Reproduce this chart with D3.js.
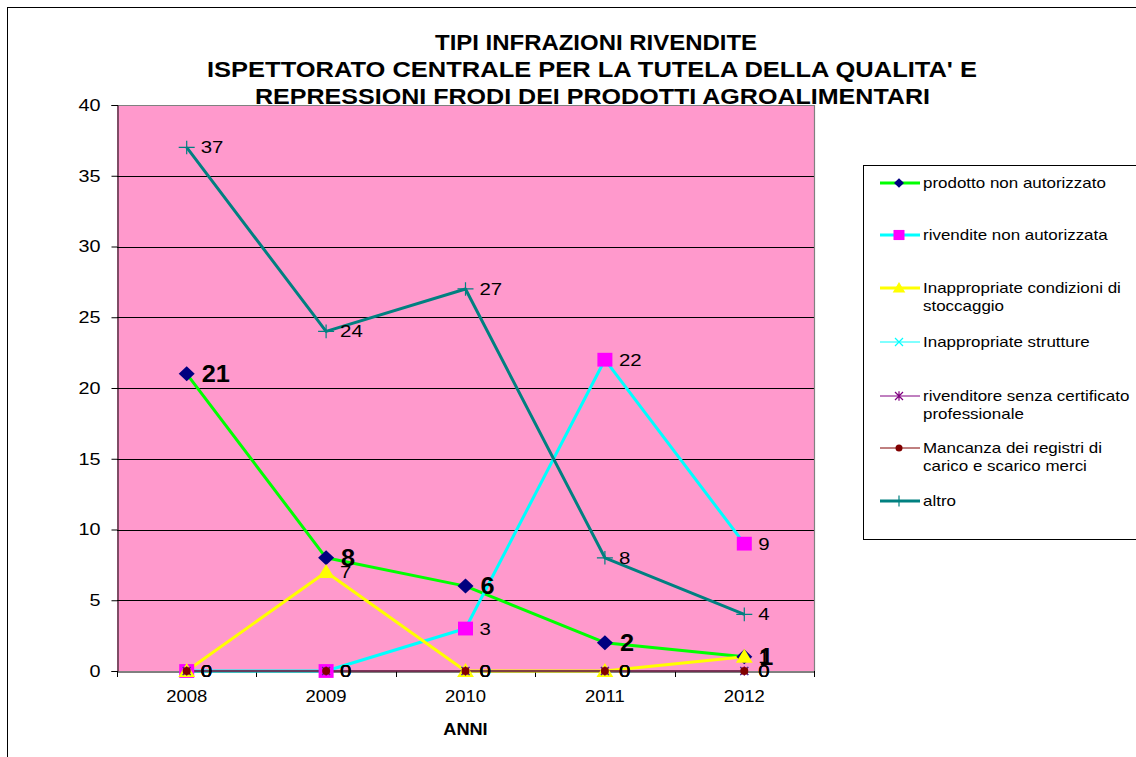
<!DOCTYPE html>
<html><head><meta charset="utf-8">
<script src="https://cdn.jsdelivr.net/npm/d3@7"></script>
<style>
html,body{margin:0;padding:0;background:#fff;}
svg{display:block;font-family:"Liberation Sans",Arial,sans-serif;}
</style></head>
<body>
<svg id="c" width="1136" height="757"></svg>
<script>
// ---- data ----
const years = ["2008", "2009", "2010", "2011", "2012"];
const prodotto = [21, 8, 6, 2, 1];
const rivendite = [0, 0, 3, 22, 9];
const stoccaggio = [0, 7, 0, 0, 1];
const strutture = [0, 0, 0, 0, 0];
const certificato = [0, 0, 0, 0, 0];
const registri = [0, 0, 0, 0, 0];
const altro = [37, 24, 27, 8, 4];
const seriesNames = [
  ["prodotto non autorizzato"],
  ["rivendite non autorizzata"],
  ["Inappropriate condizioni di", "stoccaggio"],
  ["Inappropriate strutture"],
  ["rivenditore senza certificato", "professionale"],
  ["Mancanza dei registri di", "carico e scarico merci"],
  ["altro"]
];
const yTicks = [0, 5, 10, 15, 20, 25, 30, 35, 40];
const titleLines = ["TIPI INFRAZIONI RIVENDITE", "ISPETTORATO CENTRALE PER LA TUTELA DELLA QUALITA' E", "REPRESSIONI FRODI DEI PRODOTTI AGROALIMENTARI"];
const xTitle = "ANNI";

// ---- styles ----
const styles = [
  {line:"#00FF00", w:3, marker:"diamond", fill:"#000080", stroke:"none", bold:true},
  {line:"#00FFFF", w:3, marker:"square", fill:"#FF00FF", stroke:"none", bold:false},
  {line:"#FFFF00", w:3, marker:"triangle", fill:"#FFFF00", stroke:"none", bold:false},
  {line:"#00FFFF", w:1, marker:"x", fill:"none", stroke:"#00FFFF", bold:false},
  {line:"#800080", w:1, marker:"asterisk", fill:"none", stroke:"#800080", bold:false},
  {line:"#800000", w:1, marker:"circle", fill:"#800000", stroke:"none", bold:false},
  {line:"#008080", w:3, marker:"plus", fill:"none", stroke:"#008080", bold:false}
];
const seriesValues = [prodotto, rivendite, stoccaggio, strutture, certificato, registri, altro];

const svg = d3.select("#c");
const X0 = 117, X1 = 814, Y0 = 105, Y1 = 671;
const x = d3.scaleBand().domain(years).range([X0, X1]);
const y = d3.scaleLinear().domain([0, 40]).range([Y1, Y0]);
const cx = d => x(d) + x.bandwidth() / 2;

function stretch(sel, k) {
  sel.each(function () {
    const w = this.getComputedTextLength();
    this.setAttribute("textLength", w * k);
    this.setAttribute("lengthAdjust", "spacingAndGlyphs");
  });
}

function markerPath(type, s) {
  switch (type) {
    case "diamond": return `M0,${-s*0.94}L${s},0L0,${s*0.94}L${-s},0Z`;
    case "square": return `M${-s},${-s*0.92}H${s}V${s*0.92}H${-s}Z`;
    case "triangle": return `M0,${-s}L${s*1.05},${s*0.75}L${-s*1.05},${s*0.75}Z`;
    case "x": return `M${-s},${-s}L${s},${s}M${-s},${s}L${s},${-s}`;
    case "asterisk": return `M${-s},${-s}L${s},${s}M${-s},${s}L${s},${-s}M0,${-s*1.2}V${s*1.2}`;
    case "circle": return d3.symbol(d3.symbolCircle, Math.PI * s * s)();
    case "plus": return `M${-s},0H${s}M0,${-s*0.85}V${s*0.85}`;
  }
}
const plotSize = {diamond:8, square:7.5, triangle:8, x:4, asterisk:4, circle:4, plus:8};
const legSize = {diamond:5, square:5.5, triangle:6, x:4, asterisk:4, circle:3.5, plus:6.5};

// outer frame
svg.append("rect").attr("x", 7.5).attr("y", 7.5).attr("width", 1140).attr("height", 760)
  .attr("fill", "#fff").attr("stroke", "#000").attr("stroke-width", 1);

// plot area
svg.append("rect").attr("x", X0).attr("y", Y0).attr("width", X1 - X0).attr("height", Y1 - Y0)
  .attr("fill", "#FF99CC");

// gridlines
svg.append("g").selectAll("line").data(yTicks.filter(t => t > 0 && t < 40)).join("line")
  .attr("x1", X0).attr("x2", X1).attr("y1", d => Math.round(y(d)) + 0.5).attr("y2", d => Math.round(y(d)) + 0.5)
  .attr("stroke", "#000").attr("stroke-width", 1);
// plot border top/right
svg.append("path").attr("d", `M${X0},${Y0 + 0.5}H${X1 + 0.5}V${Y1}`).attr("fill", "none")
  .attr("stroke", "#808080").attr("stroke-width", 1.2);

// y axis
const yAxis = svg.append("g").attr("transform", `translate(${X0 + 0.5},0)`)
  .call(d3.axisLeft(y).tickValues(yTicks).tickSize(6).tickPadding(11).tickFormat(d3.format("d")));
yAxis.select(".domain").attr("stroke", "#000");
yAxis.selectAll(".tick line").attr("stroke", "#000");
yAxis.selectAll("text").attr("font-size", 16.5).attr("fill", "#000")
  .attr("font-family", "'Liberation Sans',Arial,sans-serif").call(stretch, 1.2);

// x axis
const xAxis = svg.append("g").attr("transform", `translate(0,${Y1 + 0.5})`)
  .call(d3.axisBottom(x).tickSize(0).tickPadding(19));
xAxis.select(".domain").attr("stroke", "#000");
xAxis.selectAll("text").attr("font-size", 16.5).attr("fill", "#000")
  .attr("font-family", "'Liberation Sans',Arial,sans-serif").call(stretch, 1.12);
const bounds = years.map(d => x(d)).concat([X1]);
svg.append("g").selectAll("line").data(bounds).join("line")
  .attr("x1", d => Math.round(d) + 0.5).attr("x2", d => Math.round(d) + 0.5)
  .attr("y1", Y1).attr("y2", Y1 + 6).attr("stroke", "#000");

// series
const line = d3.line().x((d, i) => cx(years[i])).y(d => y(d));
seriesValues.forEach((vals, si) => {
  const st = styles[si];
  svg.append("path").datum(vals).attr("d", line).attr("fill", "none")
    .attr("stroke", st.line).attr("stroke-width", st.w).attr("stroke-linejoin", "round");
});
seriesValues.forEach((vals, si) => {
  const st = styles[si];
  svg.append("g").selectAll("path").data(vals).join("path")
    .attr("transform", (d, i) => `translate(${cx(years[i])},${y(d)})`)
    .attr("d", markerPath(st.marker, plotSize[st.marker]))
    .attr("fill", st.fill).attr("stroke", st.stroke).attr("stroke-width", 1.2);
});
// labels
seriesValues.forEach((vals, si) => {
  const st = styles[si];
  const t = svg.append("g").selectAll("text").data(vals).join("text")
    .attr("x", (d, i) => cx(years[i]) + (st.bold ? 15 : 14))
    .attr("y", d => y(d) + (st.bold ? 8 : 6))
    .attr("font-size", st.bold ? 23 : 17)
    .attr("font-weight", st.bold ? "bold" : "normal")
    .attr("fill", "#000")
    .text(d => d);
  t.call(stretch, st.bold ? 1.1 : 1.2);
});

// title
const titleBase = [50, 77, 104];
const titleX = [435, 207, 255];
const titleW = [322, 770, 675];
svg.append("g").selectAll("text").data(titleLines).join("text")
  .attr("x", (d, i) => titleX[i]).attr("y", (d, i) => titleBase[i])
  .attr("font-size", 22).attr("font-weight", "bold").attr("fill", "#000")
  .attr("textLength", (d, i) => titleW[i]).attr("lengthAdjust", "spacingAndGlyphs")
  .text(d => d);

// x title
svg.append("text").attr("x", (X0 + X1) / 2 + 0).attr("y", 735).attr("text-anchor", "middle")
  .attr("font-size", 16.5).attr("font-weight", "bold").text(xTitle).call(stretch, 1.1);

// legend
const LX = 863, LY = 165;
svg.append("rect").attr("x", LX + 0.5).attr("y", LY + 0.5).attr("width", 400).attr("height", 374)
  .attr("fill", "#fff").attr("stroke", "#000").attr("stroke-width", 1);
const legY = [183, 235, 288, 342, 396, 448, 501];
const lg = svg.append("g").selectAll("g").data(seriesNames).join("g")
  .attr("transform", (d, i) => `translate(0,${legY[i]})`);
lg.append("line").attr("x1", 880).attr("x2", 920).attr("y1", 0).attr("y2", 0)
  .attr("stroke", (d, i) => styles[i].line).attr("stroke-width", (d, i) => styles[i].w);
lg.append("path").attr("transform", "translate(899,0)")
  .attr("d", (d, i) => markerPath(styles[i].marker, legSize[styles[i].marker]))
  .attr("fill", (d, i) => styles[i].fill).attr("stroke", (d, i) => styles[i].stroke).attr("stroke-width", 1.2);
lg.each(function (names) {
  d3.select(this).selectAll("text").data(names).join("text")
    .attr("x", 923).attr("y", (d, j) => 5 + j * 18)
    .attr("font-size", 15).attr("fill", "#000").text(d => d).call(stretch, 1.13);
});
</script>
</body></html>
